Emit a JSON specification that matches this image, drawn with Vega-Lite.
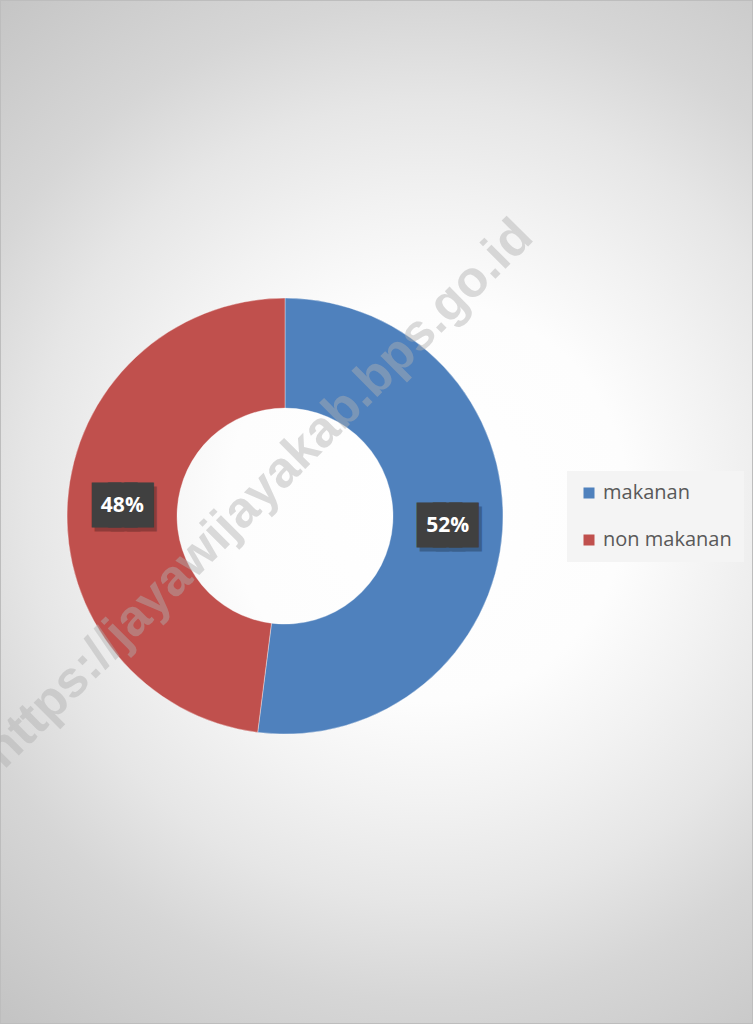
{
  "$schema": "https://vega.github.io/schema/vega-lite/v6.json",
  "width": 753,
  "height": 1024,
  "autosize": {"type": "none"},
  "padding": 0,
  "background": "#ffffff",
  "config": {"view": {"stroke": null}},
  "datasets": {
    "shares": [
      {"category": "makanan", "value": 52, "label": "52%"},
      {"category": "non makanan", "value": 48, "label": "48%"}
    ],
    "mark": [
      {"t": "https://jayawijayakab.bps.go.id"}
    ]
  },
  "layer": [
    {
      "data": {"name": "mark"},
      "mark": {
        "type": "rect",
        "stroke": "#bdbdbd",
        "strokeWidth": 2,
        "fill": {
          "gradient": "radial",
          "x1": 0.55, "y1": 0.49, "r1": 0,
          "x2": 0.55, "y2": 0.49, "r2": 0.65,
          "stops": [
            {"offset": 0, "color": "#ffffff"},
            {"offset": 0.3, "color": "#fdfdfd"},
            {"offset": 0.45, "color": "#f2f2f2"},
            {"offset": 0.6, "color": "#e6e6e6"},
            {"offset": 0.75, "color": "#d6d6d6"},
            {"offset": 1, "color": "#c4c4c4"}
          ]
        }
      },
      "encoding": {}
    },
    {
      "data": {"name": "shares"},
      "mark": {
        "type": "arc",
        "innerRadius": 108,
        "outerRadius": 218,
        "x": {"expr": "width * 0.3785"},
        "y": {"expr": "height * 0.504"},
        "stroke": "#ffffff",
        "strokeWidth": 0.6,
        "strokeOpacity": 0.6
      },
      "encoding": {
        "theta": {"field": "value", "type": "quantitative", "stack": true},
        "order": {"field": "category", "type": "nominal", "sort": "ascending"},
        "color": {
          "field": "category",
          "type": "nominal",
          "scale": {"domain": ["makanan", "non makanan"], "range": ["#4F81BD", "#C0504D"]},
          "legend": {
            "orient": "none",
            "legendX": 567,
            "legendY": 471,
            "title": null,
            "symbolType": "square",
            "symbolSize": 121,
            "symbolStrokeWidth": 0,
            "labelFont": "Open Sans",
            "labelFontSize": 20,
            "labelColor": "#595959",
            "labelOffset": 4,
            "rowPadding": 27,
            "padding": 12,
            "fillColor": "#f4f4f4",
            "strokeColor": null
          }
        }
      }
    },
    {
      "data": {"name": "shares"},
      "mark": {
        "type": "text",
        "radius": 163,
        "x": {"expr": "width * 0.3785"},
        "y": {"expr": "height * 0.504"},
        "font": "DejaVu Sans Mono",
        "fontSize": 27,
        "text": "███",
        "fill": "#000000",
        "stroke": "#000000",
        "strokeWidth": 13,
        "strokeJoin": "miter",
        "opacity": 0.25,
        "dx": 3,
        "dy": 4,
        "align": "center",
        "baseline": "middle"
      },
      "encoding": {
        "theta": {"field": "value", "type": "quantitative", "stack": true},
        "order": {"field": "category", "type": "nominal", "sort": "ascending"},
        "detail": {"field": "category", "type": "nominal"}
      }
    },
    {
      "data": {"name": "shares"},
      "mark": {
        "type": "text",
        "radius": 163,
        "x": {"expr": "width * 0.3785"},
        "y": {"expr": "height * 0.504"},
        "font": "DejaVu Sans Mono",
        "fontSize": 27,
        "text": "███",
        "fill": "#404040",
        "stroke": "#404040",
        "strokeWidth": 13,
        "strokeJoin": "miter",
        "align": "center",
        "baseline": "middle"
      },
      "encoding": {
        "theta": {"field": "value", "type": "quantitative", "stack": true},
        "order": {"field": "category", "type": "nominal", "sort": "ascending"},
        "detail": {"field": "category", "type": "nominal"}
      }
    },
    {
      "data": {"name": "shares"},
      "mark": {
        "type": "text",
        "radius": 163,
        "x": {"expr": "width * 0.3785"},
        "y": {"expr": "height * 0.504"},
        "font": "Open Sans",
        "fontSize": 21,
        "fontWeight": "bold",
        "fill": "#ffffff",
        "align": "center",
        "baseline": "middle"
      },
      "encoding": {
        "theta": {"field": "value", "type": "quantitative", "stack": true},
        "order": {"field": "category", "type": "nominal", "sort": "ascending"},
        "detail": {"field": "category", "type": "nominal"},
        "text": {"field": "label", "type": "nominal"}
      }
    },
    {
      "data": {"name": "mark"},
      "mark": {
        "type": "text",
        "x": {"expr": "width * 0.344"},
        "y": {"expr": "height * 0.4825"},
        "angle": -45,
        "font": "Liberation Sans",
        "fontSize": 51,
        "fontWeight": "bold",
        "fill": "#b0b0b0",
        "opacity": 0.45,
        "align": "center",
        "baseline": "middle"
      },
      "encoding": {
        "text": {"field": "t", "type": "nominal"}
      }
    }
  ]
}
